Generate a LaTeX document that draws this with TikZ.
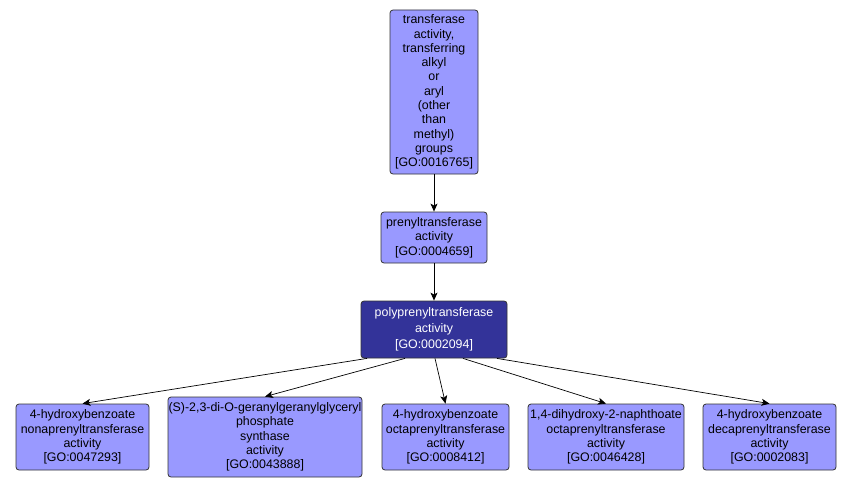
\documentclass[tikz,border=0pt]{standalone}
\usepackage{fontspec}
\setmainfont{Liberation Sans}
\usetikzlibrary{arrows.meta}
\definecolor{lightgo}{HTML}{9999FF}
\definecolor{darkgo}{HTML}{333399}
\begin{document}
\begin{tikzpicture}[x=1pt,y=-1pt,
  gobox/.style={draw=black!80, line width=0.8pt, rounded corners=3pt, fill=lightgo, align=center, inner sep=0pt,
    font=\fontsize{12.4}{14.3}\selectfont},
  hibox/.style={gobox, fill=darkgo, text=white, font=\fontsize{12.4}{16}\selectfont},
  edge/.style={-{Stealth[length=8pt,width=7pt,inset=2pt]}, line width=0.7pt, black}]
\useasboundingbox (0,0) rectangle (853,487);
\node[gobox, minimum width=88pt, minimum height=164pt] (top) at (434,92) {transferase\\activity,\\transferring\\alkyl\\or\\aryl\\(other\\than\\methyl)\\groups\\{[GO:0016765]}};
\node[gobox, minimum width=106pt, minimum height=51pt] (pren) at (434,237.5) {prenyltransferase\\activity\\{[GO:0004659]}};
\node[hibox, minimum width=146pt, minimum height=57pt] (poly) at (434,329.5) {polyprenyltransferase\\activity\\{[GO:0002094]}};
\node[gobox, minimum width=133pt, minimum height=66pt] (n1) at (82.5,437) {4-hydroxybenzoate\\nonaprenyltransferase\\activity\\{[GO:0047293]}};
\node[gobox, minimum width=194pt, minimum height=80pt] (n2) at (265,437) {(S)-2,3-di-O-geranylgeranylglyceryl\\phosphate\\synthase\\activity\\{[GO:0043888]}};
\node[gobox, minimum width=127pt, minimum height=66pt] (n3) at (445.5,437) {4-hydroxybenzoate\\octaprenyltransferase\\activity\\{[GO:0008412]}};
\node[gobox, minimum width=156pt, minimum height=66pt] (n4) at (606,437) {1,4-dihydroxy-2-naphthoate\\octaprenyltransferase\\activity\\{[GO:0046428]}};
\node[gobox, minimum width=133pt, minimum height=66pt] (n5) at (769.5,437) {4-hydroxybenzoate\\decaprenyltransferase\\activity\\{[GO:0002083]}};
\draw[edge] (top.south) -- (pren.north);
\draw[edge] (pren.south) -- (poly.north);
\draw[edge] ([xshift=-67pt]poly.south) -- (n1.north);
\draw[edge] ([xshift=-29pt]poly.south) -- (n2.north);
\draw[edge] ([xshift=1pt]poly.south) -- (n3.north);
\draw[edge] ([xshift=29pt]poly.south) -- (n4.north);
\draw[edge] ([xshift=63pt]poly.south) -- (n5.north);
\end{tikzpicture}
\end{document}
